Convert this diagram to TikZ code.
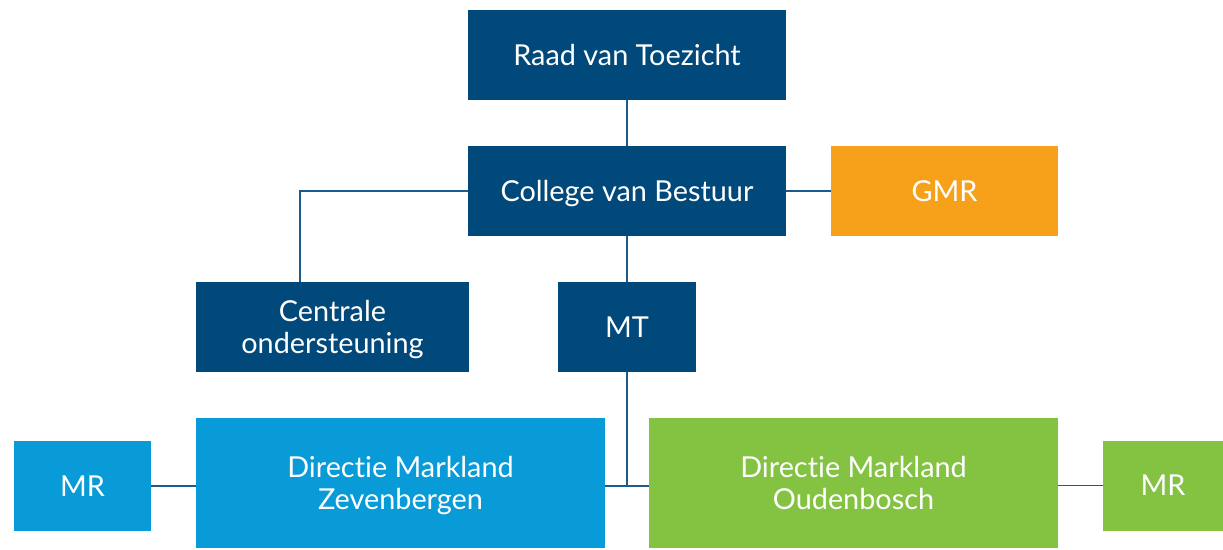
\documentclass[tikz,border=0pt]{standalone}
\usepackage{fontspec}
\setmainfont{Lato}[Ligatures=NoCommon]
\usetikzlibrary{positioning}
\definecolor{mkdark}{HTML}{00497A}
\definecolor{mklight}{HTML}{089BD8}
\definecolor{mkgreen}{HTML}{83C341}
\definecolor{mkorange}{HTML}{F7A11B}
\definecolor{mkline}{HTML}{1D5B8C}

\begin{document}
\begin{tikzpicture}[x=0.025cm, y=-0.025cm,
    box/.style={fill=#1, text=white, inner sep=0pt, align=center, text depth=0pt,
        font=\fontsize{20.5}{22.7}\selectfont},
    box/.default=mkdark,
    link/.style={draw=mkline, line width=1.4pt}]
    \useasboundingbox (0,0) rectangle (1223,549);
    % top of the tree
    \node[box, minimum width=7.95cm, minimum height=2.25cm] (raad) at (627,55) {Raad van Toezicht};
    \node[box, minimum width=7.95cm, minimum height=2.25cm] (cvb) at (627,191) {College van Bestuur};
    \node[box=mkorange, minimum width=5.675cm, minimum height=2.25cm] (gmr) at (944.5,191) {GMR};
    % middle row
    \node[box, minimum width=6.825cm, minimum height=2.25cm] (centr) at (332.5,327) {Centrale\\ondersteuning};
    \node[box, minimum width=3.425cm, minimum height=2.25cm] (mt) at (627,327) {MT};
    % the two schools and their MR
    \node[box=mklight, minimum width=10.225cm, minimum height=3.25cm] (zev) at (400.5,483) {Directie Markland\\Zevenbergen};
    \node[box=mkgreen, minimum width=10.225cm, minimum height=3.25cm] (oud) at (853.5,483) {Directie Markland\\Oudenbosch};
    \node[box=mklight, minimum width=3.425cm, minimum height=2.25cm] (mrl) at (82.5,486) {MR};
    \node[box=mkgreen, minimum width=3cm, minimum height=2.25cm] (mrr) at (1163,485.5) {MR};
    % lines
    \draw[link] (raad) -- (cvb);
    \draw[link] (cvb) -- (gmr);
    \draw[link] (cvb.west) -| ([xshift=-0.8125cm]centr.north);
    \draw[link] (cvb) -- (mt);
    \draw[link] (mt.south) -- (mt.south |- mrl.east);
    \draw[link] (zev.east |- mrl.east) -- (oud.west |- mrl.east);
    \draw[link] (mrl) -- (mrl -| zev.west);
    \draw[link] (mrr) -- (mrr -| oud.east);
\end{tikzpicture}
\end{document}
